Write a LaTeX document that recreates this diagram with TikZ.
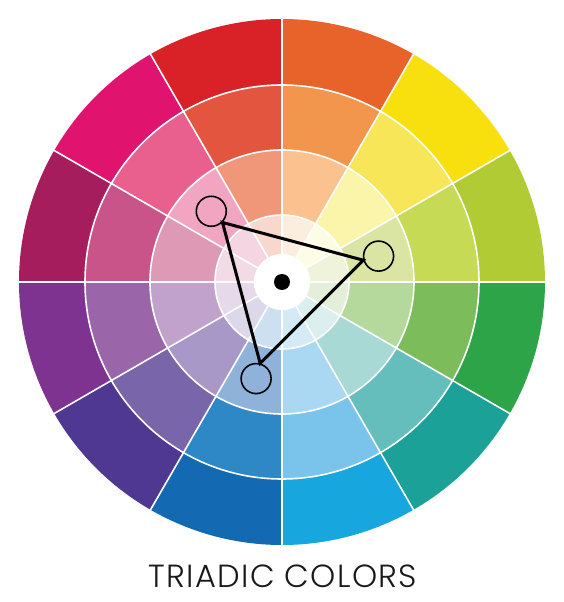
\documentclass[tikz,border=0pt]{standalone}
\usepackage{fontspec}
\newfontfamily\titlefont{Poppins}[UprightFont=*-Light, LetterSpace=4]

\begin{document}
	\begin{tikzpicture}[
		x=1pt, y=1pt,
		sep/.style={white, line width=1.6pt},
		pick/.style={circle, draw=black, line width=1.6pt, minimum size=30pt, inner sep=0pt},
		tri/.style={draw=black, line width=3pt},
		hubdot/.style={circle, fill=black, minimum size=16pt, inner sep=0pt}
		]
		\useasboundingbox (-282,-320) rectangle (281,282);
		
		% wheel: start angle / outer / middle / light / pale
		\foreach \a/\ca/\cb/\cc/\cd in {
			90/D92128/E45540/F09779/F8D8CC,
			60/E8632A/F2964E/FBC290/FCEEDE,
			30/F8E00E/F7E657/FAF5A8/FDFCE4,
			0/B1CB35/C7DA55/DAE5A4/EFF3DA,
			330/2EA448/7CBC5A/B5D99C/E3EFD8,
			300/1BA197/65BDBC/A8D9D5/DCEFEF,
			270/17A6DD/7AC3EB/AAD8F2/D4EAF7,
			240/136AB2/2F88C6/8EB2DA/CCE0F2,
			210/4F3892/7965A9/A898C7/DCD8EA,
			180/7E3391/9B65AA/C0A2CC/E6DAEA,
			150/A51D5D/C85489/DE9AB5/F3DBE6,
			120/E0146F/E9608F/F2A5C1/F6D5E3}{
			\definecolor{ringa}{HTML}{\ca}
			\definecolor{ringb}{HTML}{\cb}
			\definecolor{ringc}{HTML}{\cc}
			\definecolor{ringd}{HTML}{\cd}
			\fill[ringa] (\a:263) arc[start angle=\a, delta angle=30, radius=263] -- ({\a+30}:197) arc[start angle=\a+30, delta angle=-30, radius=197] -- cycle;
			\fill[ringb] (\a:197) arc[start angle=\a, delta angle=30, radius=197] -- ({\a+30}:132) arc[start angle=\a+30, delta angle=-30, radius=132] -- cycle;
			\fill[ringc] (\a:132) arc[start angle=\a, delta angle=30, radius=132] -- ({\a+30}:67) arc[start angle=\a+30, delta angle=-30, radius=67] -- cycle;
			\fill[ringd] (\a:67) arc[start angle=\a, delta angle=30, radius=67] -- ({\a+30}:28) arc[start angle=\a+30, delta angle=-30, radius=28] -- cycle;
		}
		\foreach \r in {67,132,197}
			\draw[sep] (0,0) circle[radius=\r];
		\foreach \a in {0,30,...,330}
			\draw[sep] (\a:28) -- (\a:263);
		\fill[white] (0,0) circle[radius=28];
		
		\node[hubdot] (hub) at (0,0) {};
		\node[pick] (pinkpick) at (135:100) {};
		\node[pick] (limepick) at (15:100) {};
		\node[pick] (bluepick) at (255:100) {};
		
		\draw[tri] (pinkpick.-45) -- (limepick.195) -- (bluepick.75) -- cycle;
		
		\node[font=\titlefont\fontsize{32}{38}\selectfont, text=black!90] (title) at (1,-294) {TRIADIC COLORS};
	\end{tikzpicture}
\end{document}
